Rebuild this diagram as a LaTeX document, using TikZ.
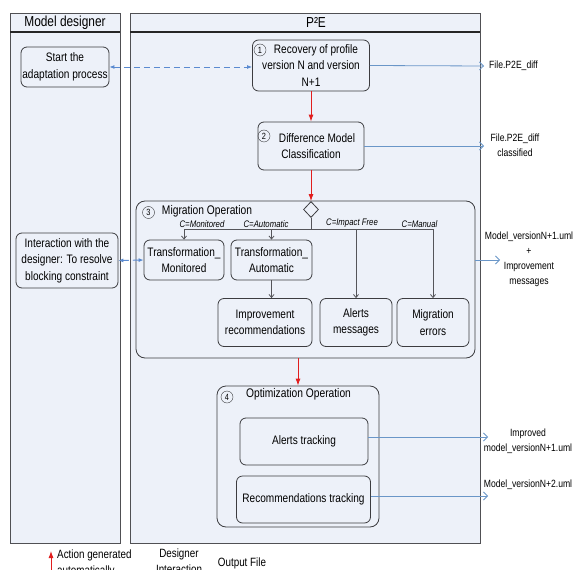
\documentclass[tikz,border=0pt]{standalone}
\usepackage{fontspec}
\setmainfont{Liberation Sans}[FakeStretch=0.82]
\usetikzlibrary{positioning,arrows.meta,shapes.geometric}
\definecolor{lanefill}{RGB}{237,241,249}
\definecolor{laneline}{RGB}{80,80,84}
\definecolor{boxline}{RGB}{60,60,64}
\definecolor{branchgrey}{RGB}{85,85,90}
\definecolor{flowred}{RGB}{225,30,30}
\definecolor{outblue}{RGB}{106,150,200}
\definecolor{userblue}{RGB}{90,138,208}
\newcommand{\actfont}{\fontsize{12.3}{16.5}\selectfont}
\newcommand{\headfont}{\fontsize{14.5}{16}\selectfont}
\tikzset{
  lane/.style={draw=laneline, fill=lanefill, line width=0.9pt},
  headline/.style={draw=black!85, line width=1.6pt},
  act/.style={draw=boxline, rounded corners=6pt, align=center, inner sep=1pt,
    font=\actfont, line width=0.8pt},
  group/.style={draw=boxline, rounded corners=9pt, line width=0.8pt},
  stepno/.style={circle, draw=boxline, inner sep=0pt, minimum size=12pt,
    font=\fontsize{9}{9}\selectfont},
  grouptitle/.style={font=\fontsize{12.5}{14}\selectfont, inner sep=1pt},
  flow/.style={draw=flowred, line width=0.9pt, -{Latex[length=7pt,width=5pt]}},
  bar/.style={draw=branchgrey, line width=0.9pt},
  branch/.style={draw=branchgrey, line width=0.8pt, -{Straight Barb[length=3pt,width=5pt]}},
  guard/.style={font=\fontsize{9.5}{10}\selectfont\itshape, inner sep=1pt, anchor=south},
  output/.style={draw=outblue, line width=0.8pt, -{Straight Barb[length=4pt,width=8pt]}},
  outlabel/.style={align=center, font=\fontsize{10.5}{15}\selectfont, inner sep=0pt},
  designer/.style={draw=userblue, line width=0.9pt, dash pattern=on 6pt off 4pt,
    {Latex[length=5pt,width=4pt]}-{Latex[length=5pt,width=4pt]}},
  legend/.style={font=\fontsize{12}{16}\selectfont, inner sep=0pt}
}
\begin{document}
\begin{tikzpicture}[x=1pt, y=-1pt]
    \useasboundingbox (0,0) rectangle (577,569);
    \clip (0,0) rectangle (577,569);
    \fill[white] (0,0) rectangle (577,569);
    % swimlanes
    \draw[lane] (10,13) rectangle (120,543);
    \draw[lane] (130,13) rectangle (480,543);
    \draw[headline] (10,32) -- (120,32);
    \draw[headline] (130,32) -- (480,32);
    \node[font=\headfont] (mdlane) at (65,22.5) {Model designer};
    \node[font=\headfont] (pelane) at (316,22.5) {P²E};
    %
    \node[act, minimum width=88pt, minimum height=40pt] (start) at (65,67) {Start the\\adaptation process};
    \node[act, minimum width=102pt, minimum height=55pt] (inter) at (67,260.5) {Interaction with the\\designer: To resolve\\blocking constraint};
    %
    \node[act, minimum width=117pt, minimum height=51pt] (recov) at (311,65.5) {\hspace*{10pt}Recovery of profile\\version N and version\\N+1};
    \node[stepno] (n1) at (260,50) {1};
    \node[act, minimum width=106pt, minimum height=48pt] (diff) at (311,146) {\hspace*{12pt}Difference Model\\Classification};
    \node[stepno] (n2) at (264,136) {2};
    % migration operation
    \node[group, minimum width=339pt, minimum height=157pt] (mig) at (305.5,279.5) {};
    \node[stepno] (n3) at (148.5,212.5) {3};
    \node[grouptitle] (migt) at (207,211) {Migration Operation};
    \node[diamond, draw=boxline, fill=lanefill, minimum width=15pt, minimum height=16pt,
      inner sep=0pt, line width=0.8pt] (dec) at (311,209.5) {};
    \node[act, minimum width=80pt, minimum height=40pt] (tmon) at (184,260) {Transformation\_\\Monitored};
    \node[act, minimum width=81pt, minimum height=40pt] (tauto) at (271.5,260) {Transformation\_\\Automatic};
    \node[act, minimum width=94pt, minimum height=48pt] (impr) at (265,322.5) {Improvement\\recommendations};
    \node[act, minimum width=72pt, minimum height=48pt] (alerts) at (356,322.5) {Alerts\\messages};
    \node[act, minimum width=72pt, minimum height=48pt] (merr) at (433,322.5) {Migration\\errors};
    \coordinate (barL) at (184,229);
    \coordinate (barR) at (433,229);
    \node[guard] (gmon) at (202,229) {C=Monitored};
    \node[guard] (gauto) at (266,229) {C=Automatic};
    \node[guard] (gfree) at (352,229) {C=Impact Free};
    \node[guard] (gman) at (419.5,229) {C=Manual};
    % optimization operation
    \node[group, minimum width=162pt, minimum height=141pt] (opt) at (298,456.5) {};
    \node[stepno] (n4) at (227,397) {4};
    \node[grouptitle] (optt) at (298.5,394.5) {Optimization Operation};
    \node[act, minimum width=128pt, minimum height=47pt] (atrk) at (304,441.5) {Alerts tracking};
    \node[act, minimum width=134pt, minimum height=47pt] (rtrk) at (303.5,499.5) {Recommendations tracking};
    %
    % output files
    \node[outlabel, anchor=west] (f1) at (489,66) {File.P2E\_diff};
    \node[outlabel] (f2) at (515,145) {File.P2E\_diff\\classified};
    \node[outlabel] (f3) at (529,259) {Model\_versionN+1.uml\\+\\Improvement\\messages};
    \node[outlabel] (f4) at (528,441) {Improved\\model\_versionN+1.uml};
    \node[outlabel] (f5) at (528,485) {Model\_versionN+2.uml};
    \coordinate (o1) at (484,66);
    \coordinate (o2) at (484,146);
    \coordinate (o3) at (500,260);
    \coordinate (o4) at (488,437);
    \coordinate (o5) at (488,496);
    %
    \draw[designer] (start.east) -- (start.east -| recov.west);
    \draw[designer] (inter.east) -- (tmon.west);
    \draw[flow] (recov.south) -- (diff.north);
    \draw[flow] (diff.south) -- (dec.north);
    \draw[flow] (opt.north |- mig.south) -- (opt.north);
    \draw[bar] (dec.south) -- (dec.south |- barL);
    \draw[bar] (barL) -- (barR);
    \draw[branch] (barL) -- (tmon.north);
    \draw[branch] (tauto.north |- barL) -- (tauto.north);
    \draw[branch] (alerts.north |- barL) -- (alerts.north);
    \draw[branch] (barR) -- (merr.north);
    \draw[branch] (tauto.south) -- (tauto.south |- impr.north);
    \draw[output] (recov.east) -- (o1);
    \draw[output] (diff.east) -- (o2);
    \draw[output] (mig.east |- o3) -- (o3);
    \draw[output] (atrk.east |- o4) -- (o4);
    \draw[output] (rtrk.east |- o5) -- (o5);
    %
    % legend (cut off at the bottom)
    \coordinate (lg0) at (51,580);
    \coordinate (lg1) at (51,551);
    \draw[flow] (lg0) -- (lg1);
    \node[legend, anchor=north west, align=left] (lgact) at (57,550) {Action generated\\automatically};
    \node[legend, anchor=north, align=center] (lgdes) at (179,549) {Designer\\Interaction};
    \node[legend, anchor=north] (lgout) at (242,558) {Output File};
\end{tikzpicture}
\end{document}
